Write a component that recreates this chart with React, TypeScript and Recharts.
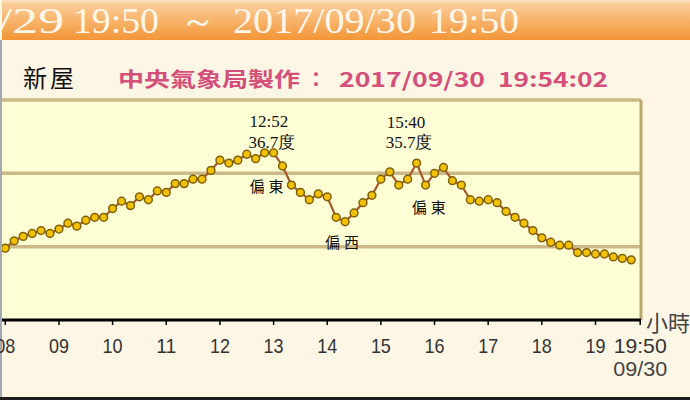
import React from "react";
import { LineChart, Line, XAxis, YAxis, CartesianGrid, ReferenceLine, ReferenceDot } from "recharts";

// ---- data ----
const times = [
  "08:00","08:10","08:20","08:30","08:40","08:50",
  "09:00","09:10","09:20","09:30","09:40","09:50",
  "10:00","10:10","10:20","10:30","10:40","10:50",
  "11:00","11:10","11:20","11:30","11:40","11:50",
  "12:00","12:10","12:20","12:30","12:40","12:50",
  "13:00","13:10","13:20","13:30","13:40","13:50",
  "14:00","14:10","14:20","14:30","14:40","14:50",
  "15:00","15:10","15:20","15:30","15:40","15:50",
  "16:00","16:10","16:20","16:30","16:40","16:50",
  "17:00","17:10","17:20","17:30","17:40","17:50",
  "18:00","18:10","18:20","18:30","18:40","18:50",
  "19:00","19:10","19:20","19:30","19:40",
];
const temps = [
  29.9, 30.4, 30.7, 30.9, 31.1, 30.9,
  31.2, 31.6, 31.4, 31.8, 32.0, 32.0,
  32.6, 33.1, 32.8, 33.4, 33.2, 33.8,
  33.7, 34.3, 34.3, 34.6, 34.6, 35.2,
  35.9, 35.7, 35.9, 36.3, 36.0, 36.4,
  36.4, 35.5, 34.2, 33.7, 33.2, 33.6,
  33.4, 32.0, 31.7, 32.3, 33.0, 33.5,
  34.6, 35.1, 34.2, 34.6, 35.7, 34.2,
  35.0, 35.4, 34.5, 34.2, 33.2, 33.1,
  33.2, 33.0, 32.4, 32.0, 31.6, 31.1,
  30.6, 30.3, 30.1, 30.1, 29.6, 29.6,
  29.5, 29.5, 29.3, 29.2, 29.1,
];
const tickLabels = ["08","09","10","11","12","13","14","15","16","17","18","19","19:50"];
const tickTimes = ["08:00","09:00","10:00","11:00","12:00","13:00","14:00","15:00","16:00","17:00","18:00","19:00","19:50"];
const endDateLabel = "09/30";
const yTicks = [25, 30, 35, 40];

const peakTimes = ["12:52", "15:40"];
const peakTemps = [36.7, 35.7];
const windLabels = ["偏東", "偏西", "偏東"];
const windAnchorTimes = ["12:52", "14:20", "15:40"];
const windAnchorTemps = [36.7, 31.7, 35.7];

const stationName = "新屋";
const madeBy = "中央氣象局製作";
const madeDate = "2017/09/30";
const madeTime = "19:54:02";
const rangeStart = "/29 19:50";
const rangeEndDate = "2017/09/30";
const rangeEndTime = "19:50";
const unitLabel = "小時";

// ---- helpers ----
const toMin = (s: string) => {
  const [h, m] = s.split(":").map(Number);
  return (h - 8) * 60 + m;
};
const data = times.map((t, i) => ({ m: toMin(t), t: temps[i] }));
const tickValues = tickTimes.map(toMin);

const XTick = (props: any) => {
  const { x, y, payload } = props;
  const idx = tickValues.indexOf(payload.value);
  const label = tickLabels[idx];
  const last = idx === tickLabels.length - 1;
  return (
    <g>
      <text x={x} y={y + 28} textAnchor="middle" fontSize={21} fontFamily="Liberation Sans, Arial, sans-serif"
        fill="#333" textLength={last ? 53 : 20} lengthAdjust="spacingAndGlyphs">{label}</text>
      {last && (
        <text x={x} y={y + 51} textAnchor="middle" fontSize={21} fontFamily="Liberation Sans, Arial, sans-serif"
          fill="#444" textLength={54} lengthAdjust="spacingAndGlyphs">{endDateLabel}</text>
      )}
    </g>
  );
};

const peakOffsets = [
  { dx: -17, dy1: -21, dy2: 0 },
  { dx: -30, dy1: -35, dy2: -15 },
];
const windOffsets = [
  { dx: -17, dy: 44 },
  { dx: -20, dy: 26 },
  { dx: -5, dy: 50 },
];

const serif = "Liberation Serif, 'Times New Roman', serif";

export default function App() {
  return (
    <div style={{ position: "absolute", left: 0, top: 0, width: 690, height: 400, background: "#FDF6E4", overflow: "hidden" }}>
      <svg width={690} height={400} style={{ position: "absolute", left: 0, top: 0 }}>
        <defs>
          <linearGradient id="hdr" x1="0" y1="0" x2="0" y2="1">
            <stop offset="0" stopColor="#FCE4C8" />
            <stop offset="0.1" stopColor="#FBCD98" />
            <stop offset="1" stopColor="#F39536" />
          </linearGradient>
        </defs>
        <rect x={2} y={0} width={688} height={40} fill="url(#hdr)" />
        <rect x={0} y={40} width={2} height={360} fill="#A4AAB4" />
        <rect x={0} y={397} width={690} height={3} fill="#1E1E1E" />
      </svg>
      <div style={{ position: "absolute", left: 0, top: 0 }}>
        <LineChart width={690} height={400} data={data} margin={{ top: 100, right: 49, bottom: 50, left: 2 }}>
          <CartesianGrid vertical={false} horizontalValues={[30, 35, 40]} stroke="#CDB987" strokeWidth={3.5} fill="#FFFFD6" strokeOpacity={1} />
          <YAxis hide type="number" domain={[25, 40]} ticks={yTicks} allowDataOverflow />
          <XAxis dataKey="m" type="number" domain={[-3.7, 710.9]} allowDataOverflow ticks={tickValues}
            interval={0} height={30} tickSize={5} tickMargin={0}
            axisLine={{ stroke: "#000", strokeWidth: 3 }} tickLine={{ stroke: "#000", strokeWidth: 1.5 }}
            tick={<XTick />} />
          <ReferenceLine x={710.9} stroke="#BCA76C" strokeWidth={3} />
          <Line dataKey="t" type="linear" stroke="#A8582A" strokeWidth={2.2}
            dot={{ r: 3.9, fill: "#F2C200", stroke: "#80600C", strokeWidth: 1.5 }}
            isAnimationActive={false} />
          {peakTimes.map((pt, i) => (
            <ReferenceDot key={"p" + i} x={toMin(pt)} y={peakTemps[i]} r={1}
              shape={(p: any) => (
                <g>
                  <text x={p.cx + peakOffsets[i].dx} y={p.cy + peakOffsets[i].dy1} fontSize={17} fontFamily={serif} fill="#111">{pt}</text>
                  <text x={p.cx + peakOffsets[i].dx - 1} y={p.cy + peakOffsets[i].dy2} fontSize={17} fontFamily={serif} fill="#111">{peakTemps[i].toFixed(1) + "度"}</text>
                </g>
              )} />
          ))}
          {windLabels.map((w, i) => (
            <ReferenceDot key={"w" + i} x={toMin(windAnchorTimes[i])} y={windAnchorTemps[i]} r={1}
              shape={(p: any) => (
                <text x={p.cx + windOffsets[i].dx} y={p.cy + windOffsets[i].dy} fontSize={15} letterSpacing={4}
                  fontFamily="'Noto Sans CJK TC', sans-serif" fill="#111">{w}</text>
              )} />
          ))}
        </LineChart>
      </div>
      <svg width={690} height={400} style={{ position: "absolute", left: 0, top: 0, pointerEvents: "none" }}>
        <g fontFamily={serif} fontSize={36} fill="#FFF6EA">
          <text x={-2} y={33} textLength={66} lengthAdjust="spacingAndGlyphs">{rangeStart.split(" ")[0]}</text>
          <text x={73} y={33} textLength={86} lengthAdjust="spacingAndGlyphs">{rangeStart.split(" ")[1]}</text>
          <text x={180} y={33} textLength={36} lengthAdjust="spacingAndGlyphs">～</text>
          <text x={233} y={33} textLength={183} lengthAdjust="spacingAndGlyphs">{rangeEndDate}</text>
          <text x={429} y={33} textLength={90} lengthAdjust="spacingAndGlyphs">{rangeEndTime}</text>
        </g>
        <text x={23} y={87} fontSize={24} letterSpacing={3} fontFamily="'Noto Sans CJK TC', serif" fill="#111">{stationName}</text>
        <g fontFamily="'Noto Sans CJK TC', sans-serif" fontWeight="bold" fontSize={20} fill="#D4507A">
          <text x={118} y={87} textLength={182} lengthAdjust="spacingAndGlyphs">{madeBy}</text>
          <text x={306} y={87}>：</text>
          <text x={339} y={87} textLength={146} lengthAdjust="spacingAndGlyphs">{madeDate}</text>
          <text x={498} y={87} textLength={110} lengthAdjust="spacingAndGlyphs">{madeTime}</text>
        </g>
        <text x={646} y={331} fontSize={22} fontFamily="'Noto Sans CJK TC', sans-serif" fill="#444">{unitLabel}</text>
      </svg>
    </div>
  );
}
